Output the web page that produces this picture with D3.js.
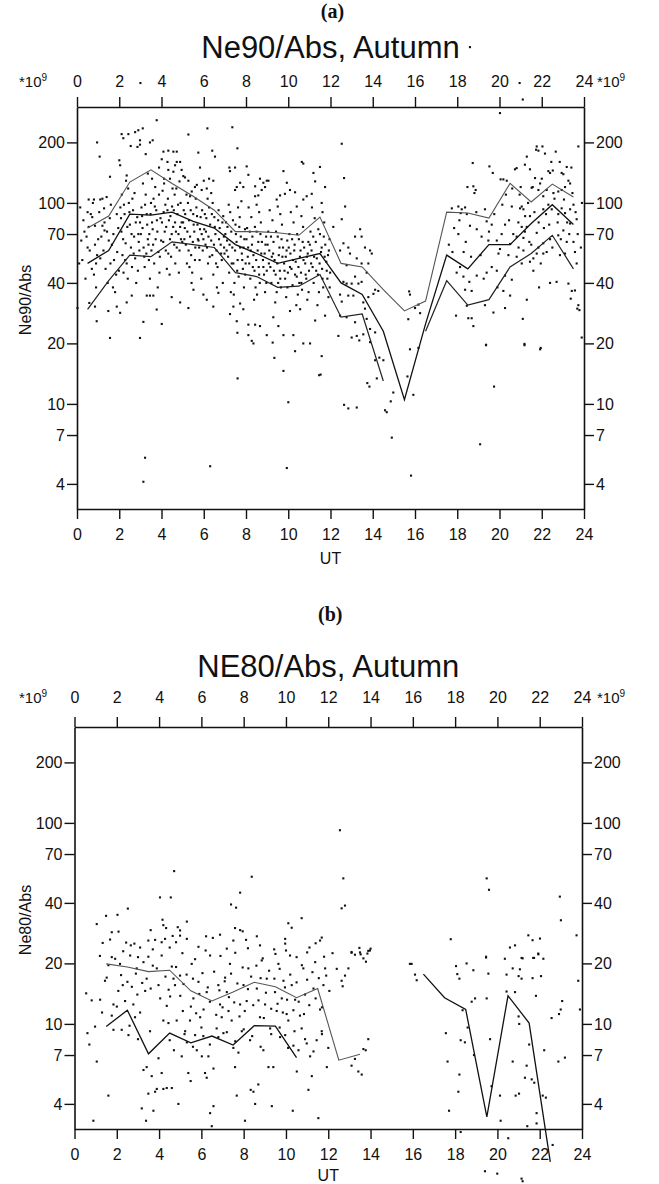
<!DOCTYPE html>
<html><head><meta charset="utf-8">
<script src="https://cdn.jsdelivr.net/npm/d3@7"></script>
<style>
body{margin:0;background:#fff}
svg{display:block}
text{font-family:"Liberation Sans",Arial,sans-serif;fill:#111}
</style>
</head><body>
<svg id="c" width="659" height="1184"></svg>
<script>
// ---------------- DATA ----------------
const hourTicks = [0,2,4,6,8,10,12,14,16,18,20,22,24];
const yTicks = [4,7,10,20,40,70,100,200];

// Panel (a): hourly curves (upper / median / lower)
const hoursA = [0.5,1.5,2.5,3.5,4.5,5.5,6.5,7.5,8.5,9.5,10.5,11.5,12.5,13.5,14.5,15.5,16.5,17.5,18.5,19.5,20.5,21.5,22.5,23.5];
const upperA  = [75,86,127,146,125,108,92,72,72,71,69,85,50,48,37,29,32.5,90,89,84,125,101,124,107];
const medianA = [50,58,88,87,90,81,75,62,56,50,53,56,40,35,23,10.5,25,55,47,62,62,79,98,78];
const lowerA  = [29.5,41,55,54,64,62,60,45,43,38,38.5,44,27,28,13,null,23,41,31,33,48,56,69,47];

// Panel (a): individual observations [UT hour, value]
const dotsA = [
[3.77,258],[3.11,235],[2.9,230],[2.75,225],[2.11,220],[2.43,220],[2.19,210],[2.98,205],[3.45,200],[3.58,205],[2.98,195],[2.54,192],[2.86,190],[3.25,175],[2.0,163],[2.04,154],[2.35,137],[2.32,129],
[4.32,182],[4.56,180],[4.72,180],[4.09,180],[4.28,160],[4.01,165],[4.72,160],[4.88,160],[4.64,154],[4.95,146],[4.32,146],[4.56,143],[4.12,132],[4.4,132],[5.03,136],[5.11,134],[5.27,129],
[5.27,219],[5.74,178],[6.17,235],[6.4,182],[6.53,170],[5.82,150],[6.25,132],[6.45,129],[6.0,129],[5.67,123],[5.9,116],[6.14,118],[5.43,114],[5.35,108],
[7.35,238],[7.59,187],[7.21,150],[7.48,150],[8.03,152],[7.24,144],[7.72,126],[7.48,116],[7.56,120],[7.87,120],[8.11,138],[8.43,121],[8.66,132],[8.82,126],[8.98,129],[9.06,129],[8.9,120],[8.74,116],[8.58,109],[8.43,108],[9.77,144],[9.93,126],[10.64,160],[10.71,157],[11.19,141],[11.27,128],[11.5,151],[11.74,120],[11.58,100],[11.11,111],[10.87,108],[10.71,104],[10.32,113],[10.08,116],[9.84,111],[9.61,109],[9.45,104],
[7.56,25.8],[7.59,22.6],[8.11,24.8],[8.43,24.8],[8.66,24.4],[8.11,22],[8.35,20],[8.98,22],[9.53,24.4],[9.77,22],[10.24,22],[10.71,20],[11.27,26],[11.74,27.5],[9.29,27],[10.08,29],[10.56,29.6],[7.72,31.6],[7.87,29.6],[7.24,28],[7.4,30.5],[6.69,35.7],[6.45,30.5],[6.14,33],[5.98,35],[5.51,37],[5.27,30],[4.88,32],[4.48,34],[4.01,25],[3.77,29.5],[3.61,34.6],[3.45,34.6],[3.3,34.6],[3.14,25.6],[2.98,21.3],[2.59,34.6],[2.35,32],[2.04,28.4],[1.88,30.5],[1.56,21.3],[1.48,29],[0.93,25.8],[0.85,30.5],[0.58,31.8],[0.02,30],
[0.1,50],[0.95,200],[1.07,170],[1.56,135],[0.55,104],[0.5,90],[0.8,104],[0.85,77],[1.1,104],[1.4,107],[1.2,77],[1.3,73],
[3.14,4.1],[3.22,5.4],[6.3,4.9],[9.93,4.8],[10.0,10.2],[7.6,13.4],[9.77,14.6],[9.34,16.95],[10.32,18.3],[11.46,13.9],[11.53,14],[11.58,17.3],[8.27,20.6],[9.26,20.2],[11.03,20],
[12.53,197],[12.69,96],[12.64,133],[12.13,76],[12.61,63],[12.45,58],[12.84,60],[12.76,49],[12.92,56],[13.16,68],[13.4,74],[13.47,68],[13.63,60],[13.87,58],[13.95,56],[13.24,53],[13.47,50],[13.79,50],[13.71,45],[12.61,40.5],[12.76,39.7],[13.0,39.7],[13.16,43],[13.32,39.7],[13.47,40.5],[12.84,34.6],[12.45,35],[13.08,34.6],[13.55,32],[13.79,34],[14.11,37],[14.26,36.5],[14.03,35.3],[12.53,32.3],[13.63,29.8],[12.45,27.5],[12.76,27],[13.16,25.5],[13.71,26.5],[13.87,23.6],[14.11,22.7],[12.37,21.8],[13.0,21.4],[13.24,21.8],[13.55,22.2],[15.72,36.3],[15.76,35],[16.0,30],[16.16,31.2],[15.68,26.4],[16.24,28.3],[12.53,83],
[13.36,20.7],[13.87,20.3],[14.11,16.5],[14.31,17],[14.5,16.5],[14.19,13.4],[13.74,12.7],[13.84,12.2],[12.64,9.9],[12.84,9.5],[13.24,9.6],[14.58,9.3],[14.66,9.1],[14.85,10.3],[14.97,11.4],[14.9,6.8],[15.76,18.7],[16.16,19],[15.64,13.7],[15.92,11.1],[15.81,4.4],[19.36,19.7],[19.74,12.2],[19.08,6.3],[21.18,19.9],[21.95,19],
[17.74,94],[18.05,96],[18.21,93],[18.37,95],[18.45,88],[18.16,89],[18.73,158],[18.76,121],[18.81,112],[18.87,116],[18.48,120],[19.31,93],[19.39,81],[19.52,152],[19.68,141],[20.02,280],[20.05,131],[20.18,131],[20.34,129],[20.13,98],[20.26,78],[19.63,78],[19.87,65],[19.15,68],[19.47,65],[18.92,74],[18.6,77],[18.05,70],[17.77,57],[18.3,57],[18.13,48],[17.97,45],[18.29,43],[18.57,40.5],[18.37,37],[18.68,36.5],[18.92,43.5],[18.45,30.8],[18.52,26.7],[18.68,26.7],[18.76,24.4],[17.94,27.5],[19.36,19.6],[19.71,28.5],[19.31,31],[19.39,45],[19.63,48],[19.87,46],[19.95,56],[20.02,59],[20.5,62.5],[20.42,55],[20.26,43.5],[20.18,36.5],[20.5,34.6],[20.26,30],[20.58,41.5],[20.73,147],[20.81,149],[21.2,155],[21.29,170],[21.44,147],[21.52,119],[21.57,120],[20.97,94],[21.05,96],[21.13,93],[20.58,96],[20.89,80],[21.21,86],[21.44,86],[21.29,76],[21.05,76],[20.81,68],[21.13,67],[21.41,64],[21.13,58],[20.81,54],[21.05,50],[21.44,51],[21.6,53],[21.6,46],[21.29,33],[21.1,26.5],[21.18,19.6],[21.87,38],[21.76,191],[21.73,184],[21.84,182],[22.03,191],[22.15,176],[22.66,180],[22.31,144],[22.39,141],[22.52,145],[22.94,141],[23.18,151],[23.02,139],[23.26,129],[23.34,125],[23.1,120],[22.94,116],[22.78,114],[22.55,112],[22.23,116],[22.07,108],[21.84,116],[21.92,125],[21.68,133],[22.07,93],[22.31,98],[22.47,93],[22.78,88],[22.94,94],[23.1,89],[23.34,93],[23.5,98],[23.65,83],[23.34,79],[23.02,73],[22.78,69],[22.39,66],[22.07,63],[21.84,60],[21.76,71],[22.23,57],[22.07,56],[21.76,56],[23.18,64],[23.5,64],[23.57,57],[23.65,50],[23.1,56],[22.86,55],[22.39,40],[22.7,40.5],[23.26,39.7],[23.42,36.5],[23.57,36.7],[23.37,33.4],[23.73,31],[23.68,29.8],[23.78,29.3],[21.92,18.7],[23.89,21.4],[23.73,191],
[0.15,95],[0.3,82],[0.45,68],[0.6,58],[0.7,47],[0.8,44],[0.9,38],[0.25,52],[0.55,76],[0.85,62],[0.4,42],[0.65,88],[0.95,55],[0.2,65],[0.75,100],
[1.05,90],[1.15,68],[1.25,58],[1.35,47],[1.45,40],[1.55,84],[1.65,62],[1.75,52],[1.85,44],[1.95,75],[1.1,53],[1.3,80],[1.5,65],[1.7,38],[1.9,57],[1.2,105],[1.6,98],[1.8,36],
[2.05,95],[2.1,72],[2.15,55],[2.2,45],[2.25,88],[2.3,63],[2.35,50],[2.4,42],[2.45,100],[2.5,78],[2.55,60],[2.6,48],[2.65,92],[2.7,68],[2.75,53],[2.8,40],[2.85,85],[2.9,70],[2.95,58],[2.12,110],[2.42,118],[2.62,105],[2.88,46],[2.98,80],
[3.05,95],[3.1,75],[3.15,60],[3.2,48],[3.25,110],[3.3,88],[3.35,66],[3.4,52],[3.45,42],[3.5,100],[3.55,80],[3.6,62],[3.65,50],[3.7,120],[3.75,92],[3.8,72],[3.85,57],[3.9,45],[3.95,84],[3.12,125],[3.42,70],[3.62,105],[3.82,38],[3.98,65],[3.28,56],
[4.05,115],[4.1,90],[4.15,72],[4.2,58],[4.25,47],[4.3,105],[4.35,82],[4.4,66],[4.45,54],[4.5,96],[4.55,76],[4.6,62],[4.65,50],[4.7,118],[4.75,88],[4.8,70],[4.85,58],[4.9,100],[4.95,80],[4.12,125],[4.38,44],[4.62,110],[4.82,45],[4.98,64],[4.28,92],[4.68,72],
[5.05,92],[5.1,75],[5.15,62],[5.2,50],[5.25,100],[5.3,82],[5.35,68],[5.4,55],[5.45,45],[5.5,88],[5.55,72],[5.6,60],[5.65,95],[5.7,78],[5.75,65],[5.8,52],[5.85,85],[5.9,70],[5.95,58],[5.18,110],[5.42,40],[5.62,105],[5.88,42],[5.32,48],[5.72,66],
[6.05,88],[6.1,72],[6.15,60],[6.2,50],[6.25,95],[6.3,78],[6.35,65],[6.4,55],[6.45,44],[6.5,85],[6.55,70],[6.6,58],[6.65,48],[6.7,92],[6.75,75],[6.8,62],[6.85,52],[6.9,40],[6.95,68],[6.18,105],[6.42,100],[6.62,38],[6.88,80],[6.98,56],
[7.05,80],[7.1,65],[7.15,54],[7.2,45],[7.25,90],[7.3,72],[7.35,60],[7.4,50],[7.45,40],[7.5,78],[7.55,64],[7.6,52],[7.65,43],[7.7,85],[7.75,68],[7.8,56],[7.85,47],[7.9,38],[7.95,74],[7.18,98],[7.42,35],[7.62,95],[7.88,60],[7.98,50],[7.28,36],
[8.05,75],[8.1,60],[8.15,50],[8.2,42],[8.25,85],[8.3,68],[8.35,55],[8.4,46],[8.45,38],[8.5,72],[8.55,58],[8.6,48],[8.65,40],[8.7,80],[8.75,64],[8.8,52],[8.85,44],[8.9,36],[8.95,68],[8.12,95],[8.38,33],[8.62,90],[8.88,56],[8.98,46],[8.28,62],[8.52,35],
[9.05,72],[9.1,58],[9.15,48],[9.2,40],[9.25,82],[9.3,64],[9.35,52],[9.4,44],[9.45,36],[9.5,68],[9.55,55],[9.6,46],[9.65,38],[9.7,78],[9.75,60],[9.8,50],[9.85,42],[9.9,34],[9.95,65],[9.12,92],[9.38,32],[9.62,88],[9.88,54],[9.98,45],[9.28,56],[9.52,40],
[10.05,70],[10.1,56],[10.15,47],[10.2,39],[10.25,80],[10.3,62],[10.35,51],[10.4,43],[10.45,35],[10.5,66],[10.55,54],[10.6,45],[10.65,37],[10.7,76],[10.75,60],[10.8,50],[10.85,42],[10.9,33],[10.95,64],[10.12,90],[10.38,31],[10.62,86],[10.88,54],[10.98,46],[10.28,58],[10.52,40],
[11.05,72],[11.1,58],[11.15,48],[11.2,40],[11.25,84],[11.3,64],[11.35,53],[11.4,44],[11.45,36],[11.5,70],[11.55,57],[11.6,47],[11.65,38],[11.7,80],[11.75,62],[11.8,51],[11.85,42],[11.9,34],[11.95,66],[11.12,95],[11.38,31],[11.62,90],[11.88,55],[11.98,45],
[0.35,72],[0.5,60],[0.72,85],[0.9,50],[1.0,66],[1.28,94],[1.42,72],[1.58,50],[1.72,70],[1.88,88],[1.98,46],
[2.08,84],[2.18,66],[2.28,52],[2.38,76],[2.48,90],[2.58,70],[2.68,56],[2.78,80],[2.92,64],[2.22,98],[2.72,112],
[3.02,70],[3.08,86],[3.18,54],[3.22,98],[3.32,78],[3.38,62],[3.48,88],[3.52,58],[3.58,74],[3.68,96],[3.72,66],[3.78,82],[3.88,110],[3.92,54],[3.35,140],[3.55,132],[3.88,150],
[4.02,80],[4.08,64],[4.18,98],[4.22,76],[4.32,56],[4.42,86],[4.48,70],[4.58,92],[4.64,80],[4.72,60],[4.78,98],[4.88,76],[4.92,66],[4.52,118],[4.85,128],
[5.02,80],[5.08,66],[5.12,88],[5.22,72],[5.28,58],[5.38,92],[5.48,64],[5.52,78],[5.58,52],[5.68,86],[5.78,60],[5.82,74],[5.92,92],[5.98,66],[5.58,120],
[6.02,74],[6.08,62],[6.12,84],[6.22,68],[6.28,54],[6.38,88],[6.48,62],[6.52,76],[6.58,50],[6.68,82],[6.72,66],[6.82,56],[6.92,86],[6.96,60],[6.35,112],
[7.02,70],[7.08,58],[7.12,76],[7.22,62],[7.32,50],[7.38,82],[7.48,58],[7.52,70],[7.58,46],[7.68,76],[7.72,60],[7.82,52],[7.92,66],[7.96,44],[7.78,102],
[8.02,66],[8.08,54],[8.18,72],[8.22,58],[8.32,48],[8.42,76],[8.48,52],[8.58,64],[8.62,44],[8.68,70],[8.72,56],[8.82,48],[8.92,62],[8.96,40],[8.5,98],
[9.02,62],[9.08,50],[9.18,68],[9.22,54],[9.32,46],[9.42,72],[9.48,50],[9.58,60],[9.62,42],[9.68,66],[9.72,54],[9.82,46],[9.92,58],[9.96,38],[9.5,96],
[10.02,60],[10.08,48],[10.18,66],[10.22,52],[10.32,44],[10.42,70],[10.48,48],[10.58,58],[10.62,40],[10.68,64],[10.72,52],[10.82,44],[10.92,56],[10.96,36],[10.4,96],
[11.02,62],[11.08,50],[11.18,68],[11.22,54],[11.32,46],[11.42,74],[11.48,50],[11.58,60],[11.62,42],[11.68,68],[11.72,54],[11.82,46],[11.92,58],[11.96,38],
[17.6,62],[17.85,75],[18.1,82],[18.4,64],[18.65,54],[18.9,90],[19.1,55],[19.25,42],[19.5,72],[19.75,88],[19.9,38],[20.1,70],[20.3,110],[20.45,82],[20.65,70],[20.9,60],[20.95,110],[21.2,72],[21.35,100],[21.5,62],[21.65,90],[21.85,80],[21.95,50],[22.1,75],[22.2,88],[22.35,78],[22.5,60],[22.6,105],[22.75,80],[22.9,66],[23.05,104],[23.2,80],[23.3,70],[23.45,112],[23.6,90],[23.7,70],[23.85,60],[23.9,100],[22.0,132],[22.45,160],[22.85,160],[23.4,150],[21.0,120],[20.6,118],
[3.0,395],[20.95,395],[21.1,327],[18.6,596]
];

// Panel (b): curves
const hoursB1 = [1.5,2.5,3.5,4.5,5.5,6.5,7.5,8.5,9.5,10.5,11.5,12.5,13.5];
const upperB  = [19.9,19.2,18.2,18.5,14.6,13,14.4,16.1,15.3,13.5,15,6.6,7.06];
const hoursB2 = [1.5,2.5,3.5,4.5,5.5,6.5,7.5,8.5,9.5,10.5];
const lowerB  = [9.7,11.7,7.1,9.0,8.05,8.7,7.85,9.8,9.75,6.8];
const hoursB3 = [16.5,17.5,18.5,19.5,20.5,21.5,22.5];
const lateB   = [17.7,13.5,11.8,3.45,13.8,10.1,2.06];

// Panel (b): observations
const dotsB = [
[4.71,57.6],[8.38,54],[7.83,45],[4.04,42.6],[4.55,42.6],[7.4,39.3],[7.64,37.9],[1.05,31.4],[1.49,34.5],[2.03,34.9],[2.52,37.5],[4.16,33],[4.2,31],[4.33,30],[3.6,29.3],[4.88,30.3],[4.99,29.2],[5.31,32.3],[7.59,30],[7.83,29.3],[7.95,28.9],[10.11,31.7],[10.27,30.1],[10.74,33.6],[11.69,26.9],[1.76,28.6],[2.08,28.8],[1.33,25.3],[1.68,26.3],[2.44,25.4],[2.66,24.6],[2.83,25.1],[3.1,24],[3.49,26],[3.81,26.2],[4.12,25.5],[4.28,26.5],[4.64,27.4],[4.8,25.5],[4.99,27.5],[5.31,26.5],[5.86,24.2],[6.22,27.3],[6.54,26.8],[6.88,27.8],[7.2,23.7],[7.51,26],[8.11,26.2],[8.62,27.3],[8.77,24.6],[9.44,23.5],[9.96,26.5],[9.96,25.1],[11.11,24],[11.61,26],
[12.55,92],[12.71,53],[12.63,37.6],[12.79,38.8],[19.49,53],[19.6,46.5],[22.95,43],[23.0,32.8],[23.74,27.6],[17.79,26.4],[21.46,27.6],[21.66,26.1],[22.01,26.6],[20.59,24],[20.83,24.6],[13.1,22.6],[13.47,23.9],[14.0,23.7],[13.53,22.2],[13.85,22.4],[19.46,21.4],[21.19,21.2],[21.73,21.3],[21.93,22.2],
[0.55,14.2],[0.81,13.1],[1.21,13.2],[0.61,9.0],[0.7,7.9],[1.05,6.5],[0.97,9.7],[0.89,3.3],[1.6,4.4],[1.44,16.4],[1.52,17],[1.6,19.6],[1.76,21.5],[1.92,21.1],[1.84,12.5],[1.76,11],[1.84,9.35],[2.07,14.6],[2.15,19.9],[2.28,15.6],[2.39,13],[2.55,8.8],[2.23,9.35],[2.63,21.9],[2.71,15.3],[2.78,12.5],[2.86,10.8],[2.94,18.9],[2.97,14],[3.1,11.4],[3.26,20.3],[3.34,14.6],[3.41,16.8],[3.49,21.6],[3.18,3.8],[3.38,3.3],[3.26,5.9],[3.41,6.1],[3.57,9.2],[3.65,5.5],[3.73,3.7],[3.49,4.5],[3.81,4.6],[3.89,4.75],[3.97,6.75],[4.12,5.7],[4.2,4.75],[4.36,4.8],[4.6,4.8],[3.89,18.9],[3.97,15.6],[4.05,13.4],[4.2,10.4],[4.36,12.3],[4.44,10.1],[4.52,13.7],[4.6,19.3],[4.12,21.9],[4.68,16.8],[4.75,15.6],[4.83,10.4],[4.91,4.0],[5.07,6.9],[4.99,17.4],[5.12,11.6],[5.23,9.2],[5.31,8.1],[5.38,5.7],[5.49,5.2],[5.46,10.4],[5.54,19.9],[5.62,13.4],[5.7,8.8],[5.78,7.4],[5.86,16.2],[5.94,10.8],[6.02,6.9],[6.09,8.7],[6.17,5.7],[6.25,5.4],[6.25,14.4],[6.33,6.9],[6.41,21.9],[6.41,3.6],[6.49,3.1],[6.57,3.9],[6.57,6.0],[6.72,9.5],[6.8,15.6],[6.88,12.5],[6.96,10.8],[7.04,9.0],[7.12,17],[7.2,14.4],[7.28,11.6],[7.35,19.9],[7.43,10.4],[7.51,7.6],[7.59,6.1],[7.67,4.4],[7.75,7.2],[7.83,12.5],[7.91,9.2],[7.99,15.6],[8.06,3.3],[8.14,13],[8.22,18.9],[8.3,8.3],[8.33,4.7],[8.46,4.6],[8.54,4.0],[8.62,15],[8.69,5.0],[8.77,10.8],[8.85,20.7],[8.93,7.4],[9.01,12.5],[9.09,16.8],[9.17,6.1],[9.25,9.5],[9.33,3.9],[9.4,6.1],[9.48,14.4],[9.56,11.6],[9.64,19.9],[9.72,8.6],[9.8,13.4],[9.88,16.4],[9.96,8.8],[10.03,11.2],[10.11,10.4],[10.19,21.9],[10.27,15.6],[10.32,3.7],[10.35,7.8],[10.43,13.2],[10.51,5.8],[10.59,7.4],[10.66,11],[10.74,9.5],[10.82,18.9],[10.9,14],[10.98,8],[11.06,4.7],[11.14,6.9],[11.22,5.5],[11.3,15],[11.38,20.3],[11.45,8.3],[11.53,3.4],[11.61,11.8],[11.69,9.2],[11.77,15.6],[11.85,18.9],[11.93,6.1],[12.0,7.6],
[12.63,16.4],[12.79,17.4],[12.95,18.9],[12.68,15.4],[13.1,22.8],[13.26,22.1],[13.5,22.7],[13.66,21.2],[13.78,20.4],[13.89,23.1],[13.97,23.2],[13.1,6.2],[13.26,6.7],[13.42,5.8],[13.58,5.6],[13.66,7.5],[13.77,7.4],[13.89,8.4],[15.86,19.9],[15.94,19.9],[16.1,17.6],[16.18,16.5],[17.56,9.0],[17.64,6.5],[17.71,3.7],[18.04,19.4],[18.1,17.7],[18.2,16.8],[18.26,8.3],[18.2,5.6],[18.15,4.6],[18.35,11.7],[18.46,8.1],[18.54,20],[18.59,9.6],[18.78,12.9],[18.86,18.5],[18.94,13.4],[18.89,7.0],[18.26,2.9],[19.46,21.6],[19.49,13.4],[19.57,17.8],[19.65,8.4],[19.72,4.9],[19.41,1.85],[19.99,1.8],[20.15,3.3],[20.12,4.4],[20.35,21.1],[20.43,17.6],[20.43,14.5],[20.83,14.4],[20.72,18.9],[20.72,6.5],[20.51,2.7],[20.86,4.4],[21.02,4.5],[21.0,10.9],[21.03,10.0],[21.0,17.3],[21.06,18.7],[21.14,21.3],[21.14,16.8],[21.3,5.4],[21.38,6.2],[21.41,3.1],[21.5,7.9],[21.62,5.3],[21.66,16.9],[21.69,21.3],[21.74,5.1],[21.82,13.8],[21.85,3.6],[21.85,3.2],[21.93,22.4],[22.06,17.3],[22.14,4.4],[22.17,21.1],[22.21,7.4],[22.29,4.3],[22.56,10.7],[22.61,2.5],[21.14,1.7],[21.19,1.65],[22.88,6.5],[22.91,11.2],[22.99,11.8],[23.06,13],[23.19,6.8],[23.82,16.4],[23.9,11.8],
[2.2,17.5],[2.5,16.2],[2.9,17.8],[3.2,16],[3.6,15],[3.7,19.5],[4.3,17.2],[4.45,14.8],[4.8,19.2],[5.0,13.8],[5.15,15.8],[5.3,17.6],[5.5,12.2],[5.6,16.8],[5.75,11.3],[5.9,14.1],[6.05,17.9],[6.1,11.8],[6.3,15.2],[6.4,12.9],[6.6,18.2],[6.7,11.1],[6.85,14.7],[7.0,12.1],[7.1,16.3],[7.3,13.6],[7.4,17.8],[7.55,12.8],[7.7,15.9],[7.8,10.9],[7.95,19.1],[8.05,11.6],[8.2,14.9],[8.35,17.2],[8.45,12.4],[8.6,19.5],[8.7,13.1],[8.8,16.9],[8.95,10.7],[9.05,14.3],[9.2,18.4],[9.3,11.9],[9.45,16.8],[9.6,12.6],[9.7,18.8],[9.85,11.4],[9.95,15.2],[10.05,13.2],[10.2,17.6],[10.35,11.7],[10.5,16.1],[10.6,12.9],[10.75,19.6],[10.85,11.2],[11.0,16.6],[11.1,12.4],[11.25,18.1],[11.4,13.4],[11.55,16.9],[11.7,12.1],[11.9,17.4],[12.05,14.6],
[4.5,8.3],[4.7,7.4],[5.2,8.9],[5.6,7.7],[6.0,9.6],[6.4,7.9],[6.8,8.6],[7.2,9.1],[7.6,8.2],[8.0,9.4],[8.4,8.7],[8.8,7.7],[9.3,8.9],[9.7,9.6],[10.1,7.6],[10.4,9.2],[10.9,8.4],[11.3,7.3],[11.7,8.9],[3.0,8.4],[2.6,9.8],[1.3,11.4],[2.0,12.2],
[2.3,23],[3.0,21.5],[3.7,23.5],[4.5,24],[5.1,22.5],[5.7,21],[6.2,23.2],[6.9,21.8],[7.6,22.6],[8.2,23.8],[8.9,21.2],[9.5,22.3],[10.0,23.2],[10.5,21.5],[11.0,22.7],[11.4,25.2],[11.8,21.6],[1.2,21.8],[12.2,22.5],[12.4,18.8]
];

// ---------------- DRAW ----------------
const svg = d3.select("#c");
svg.append("rect").attr("width",659).attr("height",1184).attr("fill","#fff");

const panels = [
  {letter:"(a)", letterY:18, title:"Ne90/Abs, Autumn", titleY:58, ylabel:"Ne90/Abs",
   left:77, right:584, top:107, bottom:509, topLab:20, utY:564, dots:dotsA,
   lines:[{h:hoursA, v:upperA, c:"#555", w:1.1},{h:hoursA, v:medianA, c:"#111", w:1.3},{h:hoursA, v:lowerA, c:"#222", w:1.2}]},
  {letter:"(b)", letterY:621, title:"NE80/Abs, Autumn", titleY:677, ylabel:"Ne80/Abs",
   left:74.5, right:582, top:727, bottom:1129, topLab:24, utY:1181, dots:dotsB,
   lines:[{h:hoursB1, v:upperB, c:"#555", w:1.1},{h:hoursB2, v:lowerB, c:"#111", w:1.3},{h:hoursB3, v:lateB, c:"#111", w:1.3}]}
];

panels.forEach(p => {
  const g = svg.append("g");
  const x = d3.scaleLinear().domain([0,24]).range([p.left,p.right]);
  const y = d3.scaleLog().domain([3,300]).range([p.bottom,p.top]);
  const cx = (p.left+p.right)/2;

  g.append("text").attr("x",cx+2).attr("y",p.letterY).attr("text-anchor","middle")
    .style("font-family","'Liberation Serif','Times New Roman',serif").style("font-weight","bold")
    .style("font-size","20px").text(p.letter);
  g.append("text").attr("x",cx).attr("y",p.titleY).attr("text-anchor","middle")
    .style("font-size","31px").text(p.title);

  const styleAxis = sel => {
    sel.selectAll("text").style("font-size","16px").style("font-family","'Liberation Sans',Arial,sans-serif").attr("fill","#111");
    sel.selectAll("line").attr("stroke","#111").attr("stroke-width",1.4);
    sel.select(".domain").attr("stroke","#111").attr("stroke-width",1.6);
  };
  g.append("g").attr("transform",`translate(0,${p.bottom})`)
    .call(d3.axisBottom(x).tickValues(hourTicks).tickFormat(d3.format("d")).tickSize(10).tickSizeOuter(0).tickPadding(9.5)).call(styleAxis);
  g.append("g").attr("transform",`translate(0,${p.top})`)
    .call(d3.axisTop(x).tickValues(hourTicks).tickFormat(d3.format("d")).tickSize(10).tickSizeOuter(0).tickPadding(p.topLab-10)).call(styleAxis);
  g.append("g").attr("transform",`translate(${p.left},0)`)
    .call(d3.axisLeft(y).tickValues(yTicks).tickFormat(d3.format("d")).tickSize(10).tickSizeOuter(0).tickPadding(2)).call(styleAxis);
  g.append("g").attr("transform",`translate(${p.right},0)`)
    .call(d3.axisRight(y).tickValues(yTicks).tickFormat(d3.format("d")).tickSize(10).tickSizeOuter(0).tickPadding(2)).call(styleAxis);

  // *10^9 markers
  [19,597].forEach(tx => {
    const t = g.append("text").attr("x",tx).attr("y",p.top-p.topLab).style("font-size","15px");
    t.append("tspan").text("*10");
    t.append("tspan").attr("dy",-6).style("font-size","10px").text("9");
  });

  g.append("text").attr("x",cx).attr("y",p.utY).attr("text-anchor","middle").style("font-size","16px").text("UT");
  g.append("text").attr("transform",`translate(31,${(p.top+p.bottom)/2-8}) rotate(-90)`).attr("text-anchor","middle")
    .style("font-size","16px").text(p.ylabel);

  // dots
  g.append("g").selectAll("rect").data(p.dots).join("rect")
    .attr("x",d=>x(d[0])-1).attr("y",d=>y(d[1])-1).attr("width",2.1).attr("height",2.1).attr("fill","#111");

  // lines
  p.lines.forEach(L => {
    const pts = L.h.map((h,i)=>[h,L.v[i]]);
    g.append("path").datum(pts)
      .attr("d", d3.line().defined(d=>d[1]!=null).x(d=>x(d[0])).y(d=>y(d[1])))
      .attr("fill","none").attr("stroke",L.c).attr("stroke-width",L.w).attr("stroke-linejoin","miter");
  });
});
</script>
</body></html>
